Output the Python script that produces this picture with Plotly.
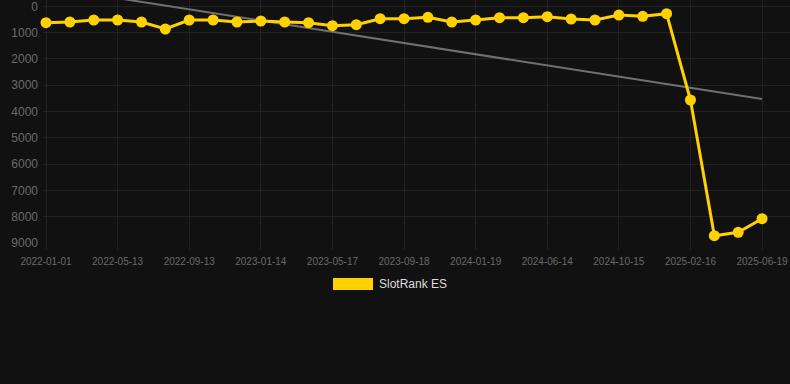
import numpy as np
import plotly.graph_objects as go

dates = [
    "2022-01-01", "2022-02-14", "2022-03-29", "2022-05-13", "2022-06-23", "2022-08-03",
    "2022-09-13", "2022-10-24", "2022-12-04", "2023-01-14", "2023-02-24", "2023-04-06",
    "2023-05-17", "2023-06-27", "2023-08-07", "2023-09-18", "2023-10-29", "2023-12-09",
    "2024-01-19", "2024-03-09", "2024-04-26", "2024-06-14", "2024-07-25", "2024-09-04",
    "2024-10-15", "2024-11-25", "2025-01-05", "2025-02-16", "2025-03-29", "2025-05-09",
    "2025-06-19",
]
rank_es = [
    623, 597, 521, 521, 597, 863, 521, 521, 597, 559,
    597, 623, 737, 700, 471, 471, 420, 597, 521, 433,
    433, 395, 483, 521, 331, 382, 281, 3562, 8722, 8593,
    8076,
]
tick_labels = dates[::3]
y_ticks = [0, 1000, 2000, 3000, 4000, 5000, 6000, 7000, 8000, 9000]

idx = np.arange(len(rank_es))
slope, intercept = np.polyfit(idx, rank_es, 1)
trend = slope * idx + intercept

fig = go.Figure()
fig.add_trace(go.Scatter(
    x=dates, y=trend, mode="lines",
    line=dict(color="#707070", width=2), hoverinfo="skip", showlegend=False,
))
fig.add_trace(go.Scatter(
    x=dates, y=rank_es, mode="lines+markers", name="SlotRank ES",
    line=dict(color="#FFD100", width=3),
    marker=dict(color="#FFD100", size=11),
    showlegend=False, cliponaxis=False,
))

grid = "#212121"
fig.update_layout(
    width=790, height=384,
    paper_bgcolor="#111111", plot_bgcolor="#111111",
    margin=dict(l=43, r=0, t=0, b=141),
    font=dict(family="Liberation Sans, Arial, sans-serif", color="#777777"),
    xaxis=dict(
        type="category", range=[-0.126, 31.17],
        tickmode="array", tickvals=tick_labels, ticktext=tick_labels,
        showgrid=True, gridcolor=grid, gridwidth=1,
        ticks="outside", ticklen=6, tickcolor=grid,
        tickfont=dict(size=10, color="#6a6a6a"),
        showline=False, zeroline=False, ticklabeloverflow="allow",
        ticklabelstandoff=3,
    ),
    yaxis=dict(
        range=[9000, -240], tickvals=y_ticks,
        showgrid=True, gridcolor=grid, gridwidth=1,
        ticks="", tickfont=dict(size=12, color="#6a6a6a"),
        showline=False, zeroline=False, ticklabelstandoff=4,
        ticklabeloverflow="allow",
    ),
    shapes=[dict(
        type="rect", xref="paper", yref="paper",
        x0=(333 - 43) / 747, x1=(373 - 43) / 747,
        y0=-(290 - 243) / 243, y1=-(278 - 243) / 243,
        fillcolor="#FFD100", line=dict(width=0),
    )],
    annotations=[dict(
        text="SlotRank ES", xref="paper", yref="paper",
        x=(377 - 43) / 747, y=-(284 - 243) / 243,
        xanchor="left", yanchor="middle", showarrow=False,
        font=dict(size=12, color="#dddddd"),
    )],
)

fig.write_html(
    "out.html",
    config={"displayModeBar": False},
    post_script="document.body.style.margin='0';document.body.style.background='#111111';",
)
